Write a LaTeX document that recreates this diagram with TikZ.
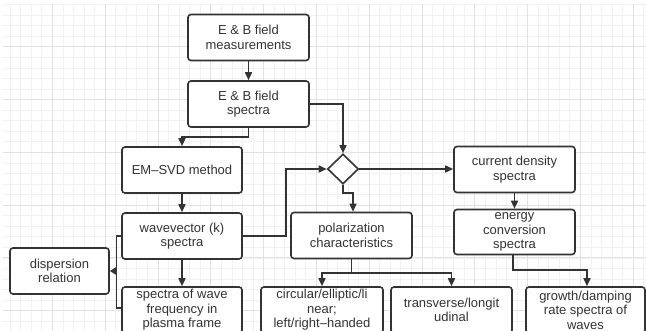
\documentclass[tikz,border=0pt]{standalone}
\usepackage{fontspec}
\setmainfont{Liberation Sans}
\usetikzlibrary{arrows.meta,shapes.geometric}
\definecolor{ink}{HTML}{333333}
\definecolor{gridminor}{HTML}{F2F2F2}
\definecolor{gridmajor}{HTML}{E2E2E2}
\begin{document}
\begin{tikzpicture}[x=1pt,y=-1pt,
  box/.style={draw=ink, line width=1.6pt, rounded corners=3pt, fill=white, align=center,
    text=ink, font=\fontsize{13}{14.5}\selectfont, inner sep=0pt,
    minimum width=121pt, minimum height=46pt},
  link/.style={draw=ink, line width=1.6pt},
  conn/.style={link, -{Triangle[length=8pt,width=7pt]}}]
\useasboundingbox (0,0) rectangle (646,331);
\fill[white] (0,0) rectangle (646,331);
\begin{scope}
\clip (0,0) rectangle (646,331);
% grid
\foreach \k in {-4,...,56} {
  \draw[gridminor, line width=0.6pt] ({52.3+10.56*\k},4.5) -- ({52.3+10.56*\k},331);
}
\foreach \k in {-4,...,26} {
  \draw[gridminor, line width=0.6pt] (3,{46.7+10.56*\k}) -- (646,{46.7+10.56*\k});
}
\foreach \j in {0,...,11} {
  \draw[gridmajor, line width=0.8pt] ({52.3+52.8*\j},4.5) -- ({52.3+52.8*\j},331);
}
\foreach \j in {0,...,5} {
  \draw[gridmajor, line width=0.8pt] (3,{46.7+52.8*\j}) -- (646,{46.7+52.8*\j});
}

% nodes
\node[box] (meas) at (248.5,37.5) {E \& B field\\measurements};
\node[box] (spec) at (248.5,104) {E \& B field\\spectra};
\node[box, minimum width=120pt] (emsvd) at (182,170) {EM–SVD method};
\node[box, minimum width=120pt] (wave) at (182,236) {wavevector (k)\\spectra};
\node[box, minimum width=120pt] (freq) at (182,310) {spectra of wave\\frequency in\\plasma frame};
\node[box, minimum width=99pt] (disp) at (59.5,271) {dispersion\\relation};
\node[draw=ink, line width=1.6pt, diamond, fill=white, inner sep=0pt,
  minimum width=31pt, minimum height=30pt] (dia) at (343,169) {};
\node[box] (cur) at (514.5,169.5) {current density\\spectra};
\node[box, minimum height=45pt] (energy) at (514.5,232) {energy\\conversion\\spectra};
\node[box] (polar) at (351.5,235.5) {polarization\\characteristics};
\node[box, minimum width=122pt] (circ) at (322,310) {circular/elliptic/li\\near;\\left/right–handed};
\node[box] (trans) at (451.5,310) {transverse/longit\\udinal};
\node[box, minimum width=119pt] (growth) at (585.5,310) {growth/damping\\rate spectra of\\waves};

% connectors
\draw[conn] (meas) -- (spec);
\draw[conn] (spec.south) -- ++(0,9) -| (emsvd.north);
\draw[conn] (spec.east) -| (dia.north);
\draw[conn] (emsvd) -- (wave);
\draw[conn] (wave.east) -- ++(43,0) |- (dia.west);
\draw[conn] (dia.east) -- (dia.east -| cur.west);
\draw[conn] (dia.south) -- ++(0,8) -| ([xshift=1.5pt]polar.north);
\draw[conn] (cur) -- (energy);
\draw[conn] ([xshift=-1.5pt]energy.south) -- ++(0,14.5) -| ([xshift=1.5pt]growth.north);
\draw[link] (polar.south) -- ++(0,14) coordinate (pj);
\draw[conn] (pj) -| (circ.north);
\draw[conn] (pj) -| (trans.north);
\draw[conn] (wave) -- (freq);
\coordinate (bk) at ([xshift=6.5pt]disp.east);
\draw[link] (wave.west) -| (bk) |- ([yshift=2pt]freq.west);
\draw[conn, -{Triangle[length=6pt,width=7pt]}] (bk) -- (disp.east);
\end{scope}
\end{tikzpicture}
\end{document}
